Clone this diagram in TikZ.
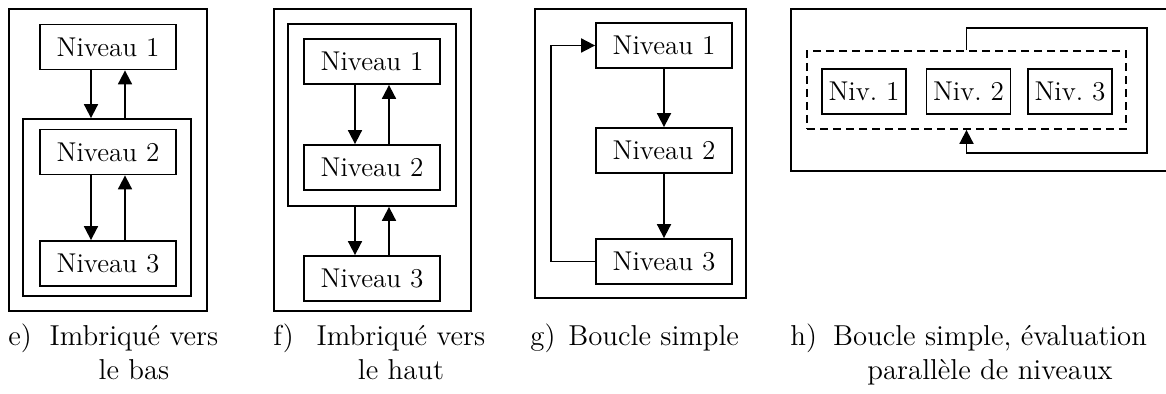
\documentclass[tikz,border=0pt]{standalone}
\usepackage{tikz}
\usetikzlibrary{arrows.meta, positioning}

\begin{document}
\begin{tikzpicture}[x=0.5pt, y=-0.5pt,
  font=\fontsize{13.6}{17}\selectfont,
  niv/.style={draw, line width=0.9pt, inner sep=0pt, minimum height=22.5pt, minimum width=68pt},
  petit/.style={niv, minimum width=42pt},
  cadre/.style={draw, line width=0.9pt, inner sep=0pt},
  pointille/.style={cadre, dash pattern=on 4pt off 2.5pt},
  fl/.style={-{Triangle[length=7pt, width=7pt]}, line width=0.9pt},
  leg/.style={anchor=base, align=center, inner sep=0pt,
              font=\fontsize{14.4}{17}\selectfont},
  lbl/.style={leg, anchor=base west}]

  \useasboundingbox (0,0) rectangle (1166,394);

  % e) nested downwards
  \node[cadre, minimum width=99pt, minimum height=151pt] (eout) at (108,160) {};
  \node[niv] (e1) at (108,47) {Niveau 1};
  \node[cadre, minimum width=84pt, minimum height=88.5pt] (ein) at (107,207.5) {};
  \node[niv] (e2) at (108,152) {Niveau 2};
  \node[niv] (e3) at (108,263.5) {Niveau 3};

  \draw[fl] ([xshift=-8.5pt]e1.south) -- ([xshift=-8.5pt]e1.south |- ein.north);
  \draw[fl] ([xshift=8.5pt]e1.south |- ein.north) -- ([xshift=8.5pt]e1.south);
  \draw[fl] ([xshift=-8.5pt]e2.south) -- ([xshift=-8.5pt]e3.north);
  \draw[fl] ([xshift=8.5pt]e3.north) -- ([xshift=8.5pt]e2.south);

  % f) nested upwards
  \node[cadre, minimum width=98.5pt, minimum height=151pt] (fout) at (372.5,160) {};
  \node[cadre, minimum width=84pt, minimum height=91pt] (fin) at (372,115) {};
  \node[niv] (f1) at (372,61.5) {Niveau 1};
  \node[niv] (f2) at (372,167.5) {Niveau 2};
  \node[niv] (f3) at (372,278.5) {Niveau 3};

  \draw[fl] ([xshift=-8.5pt]f1.south) -- ([xshift=-8.5pt]f2.north);
  \draw[fl] ([xshift=8.5pt]f2.north) -- ([xshift=8.5pt]f1.south);
  \draw[fl] ([xshift=-8.5pt]f3.north |- fin.south) -- ([xshift=-8.5pt]f3.north);
  \draw[fl] ([xshift=8.5pt]f3.north) -- ([xshift=8.5pt]f3.north |- fin.south);

  % g) simple loop
  \node[cadre, minimum width=105.5pt, minimum height=144.5pt] (gout) at (640.5,153.5) {};
  \node[niv] (g1) at (664,45.5) {Niveau 1};
  \node[niv] (g2) at (664,150.5) {Niveau 2};
  \node[niv] (g3) at (664,261.5) {Niveau 3};
  \coordinate (gg) at (551,150);

  \draw[fl] (g1) -- (g2);
  \draw[fl] (g2) -- (g3);
  \draw[fl] (g3.west) -- (g3.west -| gg) |- (g1.west);

  % h) simple loop, parallel levels
  \node[cadre, minimum width=192pt, minimum height=81pt] (hout) at (983,90) {};
  \node[pointille, minimum width=159.5pt, minimum height=39pt] (hpar) at (966.5,90) {};
  \node[petit] (h1) at (864,91.5) {Niv.~1};
  \node[petit] (h2) at (968.5,91.5) {Niv.~2};
  \node[petit] (h3) at (1070,91.5) {Niv.~3};
  \coordinate (hhaut) at (1147,28);
  \coordinate (hbas) at (1147,153);

  \draw[fl] (hpar.north) |- (hhaut) -- (hbas) -| (hpar.south);

  % captions (two-line ones anchored on their last line)
  \node[lbl] (ce) at (8,346) {e)};
  \node[leg] (te) at (134,380) {Imbriqué vers\\le bas};
  \node[lbl] (cf) at (273,346) {f)};
  \node[leg] (tf) at (401,380) {Imbriqué vers\\le haut};
  \node[lbl] (cg) at (530,346) {g)};
  \node[lbl] (tg) at (568,346) {Boucle simple};
  \node[lbl] (ch) at (790,346) {h)};
  \node[leg] (th) at (990,380) {Boucle simple, évaluation\\parallèle de niveaux};
\end{tikzpicture}
\end{document}
